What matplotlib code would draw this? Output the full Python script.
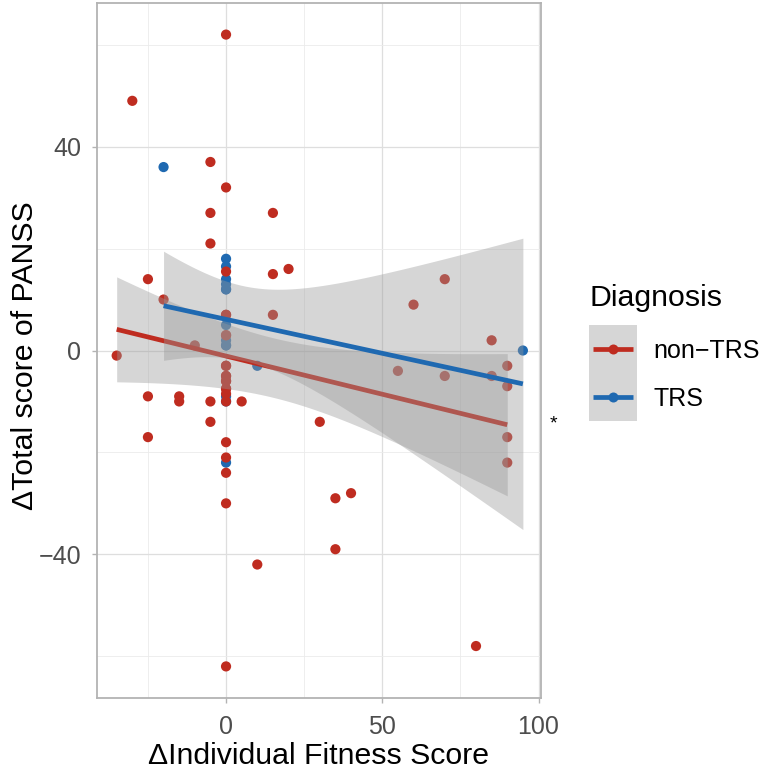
import numpy as np
import matplotlib
matplotlib.use("Agg")
import matplotlib.pyplot as plt
from matplotlib.patches import Rectangle
from matplotlib.lines import Line2D
from matplotlib.ticker import FixedLocator

plt.rcParams["font.family"] = ["Liberation Sans", "DejaVu Sans"]

# non-TRS patients (change in fitness score, change in PANSS total)
# several patients share the same (0, y) values, so some points overlap
nontrs_x = [0, -30, -5, 0, -5, 15, -5, 0, 15, 20, -25, 70, -20, 60, 15, 0, 85, -10,
            -35, 0, 0, 55, 70, 85, 90, 90, 0, 0, 0, 0, -25, -15, -15, -5, 0, 5,
            -5, 30, 90, 0, 0, 90, 0, -25, 35, 40, 0, 35, 10, 80, 0,
            0, 0, 0, 0, 0, 0]
nontrs_y = [62, 49, 37, 32, 27, 27, 21, 15.5, 15, 16, 14, 14, 10, 9, 7, 7, 2, 1,
            -1, 3, -3, -4, -5, -5, -3, -7, -5, -6, -7.5, -8.5, -9, -9, -10, -10, -10, -10,
            -14, -14, -17, -18, -21, -22, -24, -17, -29, -28, -30, -39, -42, -58, -62,
            3, -3, -5, -6, -7.5, 7]

# TRS patients
trs_x = [-20, 0, 0, 0, 0, 0, 0, 0, 0, 0, 0, 0, 0, 0, 10, 95]
trs_y = [36, 18, 16.5, 14, 13, 12, 12, 5, 2, 1, 1, -9, -10, -22, -3, 0]

group_names = ["non\u2212TRS", "TRS"]
group_colors = ["#BF2C20", "#1F69B1"]
x_major = [0, 50, 100]
x_minor = [-25, 25, 75]
y_major = [-40, 0, 40]
y_minor = [-60, -20, 20, 60]

W, H = 760, 770


def fx(px):
    return px / W


def fy(py):
    return 1 - py / H


def t975(df):
    # Cornish-Fisher approximation of the 97.5% t quantile
    z = 1.959964
    return (z + (z**3 + z) / (4 * df)
            + (5 * z**5 + 16 * z**3 + 3 * z) / (96 * df**2)
            + (3 * z**7 + 19 * z**5 + 17 * z**3 - 15 * z) / (384 * df**3))


def lm_band(x, y, n_grid=80):
    x = np.asarray(x, float)
    y = np.asarray(y, float)
    n = len(x)
    b, a = np.polyfit(x, y, 1)
    resid = y - (a + b * x)
    s = np.sqrt(np.sum(resid ** 2) / (n - 2))
    xg = np.linspace(x.min(), x.max(), n_grid)
    xm = x.mean()
    sxx = np.sum((x - xm) ** 2)
    se = s * np.sqrt(1 / n + (xg - xm) ** 2 / sxx)
    t = t975(n - 2)
    yg = a + b * xg
    return xg, yg, yg - t * se, yg + t * se


fig = plt.figure(figsize=(W / 100, H / 100), dpi=100)
ax = fig.add_axes([fx(97), fy(698), fx(444), 695 / H])

# points (TRS first so the red ones sit on top)
ax.scatter(trs_x, trs_y, s=54, color=group_colors[1], edgecolors="none", zorder=2)
ax.scatter(nontrs_x, nontrs_y, s=54, color=group_colors[0], edgecolors="none", zorder=2)

# regression lines with 95% CI, red group first then blue on top
z = 3
for gx, gy, col in [(nontrs_x, nontrs_y, group_colors[0]), (trs_x, trs_y, group_colors[1])]:
    xg, yg, lo, hi = lm_band(gx, gy)
    ax.fill_between(xg, lo, hi, color="#999999", alpha=0.4, linewidth=0, zorder=z)
    ax.plot(xg, yg, color=col, linewidth=3.4, solid_capstyle="butt", zorder=z + 1)
    z += 2

ax.set_xlim(-41.3, 100.8)
ax.set_ylim(-68.2, 68.2)
ax.xaxis.set_major_locator(FixedLocator(x_major))
ax.xaxis.set_minor_locator(FixedLocator(x_minor))
ax.yaxis.set_major_locator(FixedLocator(y_major))
ax.yaxis.set_minor_locator(FixedLocator(y_minor))
ax.set_axisbelow(True)
ax.grid(which="major", color="#DEDEDE", linewidth=0.9)
ax.grid(which="minor", color="#EBEBEB", linewidth=0.6)
ax.tick_params(which="major", labelsize=18, labelcolor="#4D4D4D", color="#B3B3B3",
               length=3.5, width=1.0)
ax.tick_params(axis="y", pad=8)
ax.tick_params(axis="x", pad=9)
ax.tick_params(which="minor", length=0)
for sp in ax.spines.values():
    sp.set_color("#B3B3B3")
    sp.set_linewidth(1.3)

# axis titles
fig.text(fx(319), fy(764), "\u0394Individual Fitness Score", fontsize=21.8,
         ha="center", va="baseline")
fig.text(fx(33), fy(356), "\u0394Total score of PANSS", fontsize=21.8, rotation=90,
         rotation_mode="anchor", ha="center", va="baseline")

# legend drawn by hand
fig.text(fx(589), fy(306), "Diagnosis", fontsize=21.8, va="baseline")
fig.add_artist(Rectangle((fx(589), fy(421)), fx(48), 96 / H, facecolor="#999999",
                         alpha=0.4, edgecolor="none", transform=fig.transFigure))
for name, col, ky, base in [(group_names[0], group_colors[0], 349, 357.5),
                            (group_names[1], group_colors[1], 397, 406)]:
    fig.add_artist(Line2D([fx(593), fx(633)], [fy(ky), fy(ky)], color=col, linewidth=3.4,
                          solid_capstyle="butt", transform=fig.transFigure))
    fig.add_artist(Line2D([fx(613)], [fy(ky)], marker="o", markersize=7.2, color=col,
                          markeredgewidth=0, transform=fig.transFigure))
    fig.text(fx(653), fy(base), name, fontsize=18, va="baseline")

fig.text(fx(553), fy(428), "*", fontsize=14, ha="center", va="baseline")

fig.savefig("out.png", dpi=100)
